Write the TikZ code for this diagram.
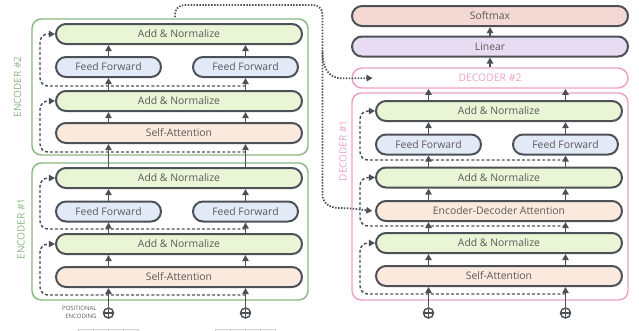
\documentclass[tikz,border=0pt]{standalone}
\usepackage{fontspec}
\setmainfont{Open Sans}
\usetikzlibrary{arrows.meta}

\definecolor{boxline}{HTML}{4D5157}
\definecolor{boxtext}{HTML}{5A5A5A}
\definecolor{addfill}{HTML}{EAF5D6}
\definecolor{fffill}{HTML}{E2EAF8}
\definecolor{attfill}{HTML}{FAE9DC}
\definecolor{softfill}{HTML}{F4D8D4}
\definecolor{linfill}{HTML}{E8DCF2}
\definecolor{encgreen}{HTML}{8CB982}
\definecolor{decpink}{HTML}{EBA0C8}
\definecolor{vecgray}{HTML}{D2D2D2}

\tikzset{every picture/.style={line width=0.75pt}}
\tikzset{
  blk/.style={draw=boxline, line width=1.5pt, rounded corners=7.5pt, minimum height=15pt,
    inner sep=0pt, text=boxtext, font=\fontsize{7.8}{9}\selectfont},
  wide/.style={blk, minimum width=184.5pt},
  half/.style={blk, minimum width=78.75pt, fill=fffill},
  top/.style={blk, minimum width=207pt},
  encframe/.style={draw=encgreen, line width=1.1pt, rounded corners=7pt, minimum width=207pt, inner sep=0pt},
  decframe/.style={draw=decpink, line width=1.1pt, rounded corners=7pt, minimum width=207pt, inner sep=0pt},
  framelbl/.style={rotate=90, inner sep=0pt, font=\fontsize{7.5}{9}\selectfont},
  arr/.style={draw=boxline, line width=1.1pt, -{Triangle[length=4.6pt,width=4.8pt]}},
  res/.style={arr, dash pattern=on 2.2pt off 1.6pt, rounded corners=6pt},
  encdots/.style={arr, line width=1.3pt, dash pattern=on 1.1pt off 1.1pt, rounded corners=7pt},
  posenc/.style={circle, draw=boxline, line width=1.1pt, minimum size=7.5pt, inner sep=0pt,
    path picture={\draw[boxline, line width=1pt] (path picture bounding box.north) -- (path picture bounding box.south)
      (path picture bounding box.west) -- (path picture bounding box.east);}},
}

\begin{document}
\begin{tikzpicture}[x=0.75pt,y=0.75pt,yscale=-1,xscale=1]
    \useasboundingbox (0,0) rectangle (639,330);

    %Shape: input vectors, cut by the lower edge
    \begin{scope}
    \clip (0,0) rectangle (639,330);
    \draw[vecgray] (78,329.5) rectangle (138,345);
    \draw[vecgray] (93,329.5) -- (93,345) (108,329.5) -- (108,345) (123,329.5) -- (123,345);
    \draw[vecgray] (215,329.5) rectangle (275,345);
    \draw[vecgray] (230,329.5) -- (230,345) (245,329.5) -- (245,345) (260,329.5) -- (260,345);
    \end{scope}

    % Frames
    \node[encframe, minimum height=102pt] (enc2) at (170,87) {};
    \node[encframe, minimum height=102.75pt] (enc1) at (170,231.5) {};
    \node[decframe, minimum height=155.25pt] (dec1) at (490,196.5) {};
    \node[framelbl, text=encgreen] (lblE2) at (17.5,87) {ENCODER \#2};
    \node[framelbl, text=encgreen] (lblE1) at (21,229) {ENCODER \#1};
    \node[framelbl, text=decpink] (lblD1) at (343,151) {DECODER \#1};

    % Encoder #2
    \node[wide, fill=addfill] (e2an2) at (179,34) {Add \& Normalize};
    \node[half] (e2ffL) at (108.5,67) {Feed Forward};
    \node[half] (e2ffR) at (245.5,67) {Feed Forward};
    \node[wide, fill=addfill] (e2an1) at (179,101) {Add \& Normalize};
    \node[wide, fill=attfill] (e2sa) at (179,133) {Self-Attention};

    % Encoder #1
    \node[wide, fill=addfill] (e1an2) at (179,178) {Add \& Normalize};
    \node[half] (e1ffL) at (108.5,211.5) {Feed Forward};
    \node[half] (e1ffR) at (245.5,211.5) {Feed Forward};
    \node[wide, fill=addfill] (e1an1) at (179,244) {Add \& Normalize};
    \node[wide, fill=attfill] (e1sa) at (179,277) {Self-Attention};

    % Decoder #1
    \node[wide, fill=addfill] (d1an3) at (499,111) {Add \& Normalize};
    \node[half] (d1ffL) at (428.5,144.5) {Feed Forward};
    \node[half] (d1ffR) at (565.5,144.5) {Feed Forward};
    \node[wide, fill=addfill] (d1an2) at (499,177.5) {Add \& Normalize};
    \node[wide, fill=attfill] (d1eda) at (499,211) {Encoder-Decoder Attention};
    \node[wide, fill=addfill] (d1an1) at (499,243) {Add \& Normalize};
    \node[wide, fill=attfill] (d1sa) at (499,276) {Self-Attention};

    % Top of the stack
    \node[top, draw=decpink, line width=1.1pt, text=decpink] (dec2) at (490,78) {DECODER \#2};
    \node[top, fill=linfill] (lin) at (490,46.5) {Linear};
    \node[top, fill=softfill] (soft) at (490,16) {Softmax};

    % Positional encoding
    \node[posenc] (peL) at (108.5,313) {};
    \node[posenc] (peR) at (245.5,313) {};
    \node[posenc] (pdL) at (428.5,313) {};
    \node[posenc] (pdR) at (565.5,313) {};
    \node[anchor=east, inner sep=0pt, align=right, text=boxtext, font=\fontsize{4.5}{6}\selectfont]
      (petxt) at (97,312) {POSITIONAL\\ENCODING};

    %Straight Lines: encoders
    \draw[arr] (peL) -- (e1sa.south -| peL);
    \draw[arr] (peR) -- (e1sa.south -| peR);
    \draw[arr] (e1sa.north -| peL) -- (e1an1.south -| peL);
    \draw[arr] (e1sa.north -| peR) -- (e1an1.south -| peR);
    \draw[arr] (e1an1.north -| e1ffL) -- (e1ffL);
    \draw[arr] (e1an1.north -| e1ffR) -- (e1ffR);
    \draw[arr] (e1ffL) -- (e1an2.south -| e1ffL);
    \draw[arr] (e1ffR) -- (e1an2.south -| e1ffR);
    \draw[arr] (e1an2.north -| peL) -- (e2sa.south -| peL);
    \draw[arr] (e1an2.north -| peR) -- (e2sa.south -| peR);
    \draw[arr] (e2sa.north -| peL) -- (e2an1.south -| peL);
    \draw[arr] (e2sa.north -| peR) -- (e2an1.south -| peR);
    \draw[arr] (e2an1.north -| e2ffL) -- (e2ffL);
    \draw[arr] (e2an1.north -| e2ffR) -- (e2ffR);
    \draw[arr] (e2ffL) -- (e2an2.south -| e2ffL);
    \draw[arr] (e2ffR) -- (e2an2.south -| e2ffR);

    %Straight Lines: decoder
    \draw[arr] (pdL) -- (d1sa.south -| pdL);
    \draw[arr] (pdR) -- (d1sa.south -| pdR);
    \draw[arr] (d1sa.north -| pdL) -- (d1an1.south -| pdL);
    \draw[arr] (d1sa.north -| pdR) -- (d1an1.south -| pdR);
    \draw[arr] (d1an1.north -| pdL) -- (d1eda.south -| pdL);
    \draw[arr] (d1an1.north -| pdR) -- (d1eda.south -| pdR);
    \draw[arr] (d1eda.north -| pdL) -- (d1an2.south -| pdL);
    \draw[arr] (d1eda.north -| pdR) -- (d1an2.south -| pdR);
    \draw[arr] (d1an2.north -| d1ffL) -- (d1ffL);
    \draw[arr] (d1an2.north -| d1ffR) -- (d1ffR);
    \draw[arr] (d1ffL) -- (d1an3.south -| d1ffL);
    \draw[arr] (d1ffR) -- (d1an3.south -| d1ffR);
    \draw[arr] (d1an3.north -| pdL) -- (dec2.south -| pdL);
    \draw[arr] (d1an3.north -| pdR) -- (dec2.south -| pdR);
    \draw[arr] (dec2) -- (lin);
    \draw[arr] (lin) -- (soft);

    %Residual connections
    \coordinate (e1res1) at (245.5,295);
    \coordinate (e1res2) at (245.5,229);
    \coordinate (e2res1) at (245.5,152);
    \coordinate (e2res2) at (245.5,86);
    \coordinate (d1res1) at (565.5,294);
    \coordinate (d1res2) at (565.5,226);
    \coordinate (d1res3) at (565.5,160);
    \draw[res] (e1res1) -- ++(-205.5,0) |- (e1an1.west);
    \draw[res] (e1res2) -- ++(-205.5,0) |- (e1an2.west);
    \draw[res] (e2res1) -- ++(-205.5,0) |- (e2an1.west);
    \draw[res] (e2res2) -- ++(-205.5,0) |- (e2an2.west);
    \draw[res] (d1res1) -- ++(-205.5,0) |- (d1an1.west);
    \draw[res] (d1res2) -- ++(-205.5,0) |- (d1an2.west);
    \draw[res] (d1res3) -- ++(-205.5,0) |- (d1an3.west);

    %Encoder output to the decoders
    \coordinate (encout) at (175,17);
    \coordinate (bus) at (322.5,5);
    \coordinate (busfork) at (322.5,52);
    \draw[encdots] (encout) |- (bus) -- (322.5,185)
      .. controls (322.5,203) and (330,208) .. (348,208) -- ([xshift=-2pt]d1eda.west);
    \draw[encdots] (busfork) .. controls (322.5,71) and (331,78) .. (350,78.5) -- ([xshift=16pt]dec2.west);

\end{tikzpicture}
\end{document}
